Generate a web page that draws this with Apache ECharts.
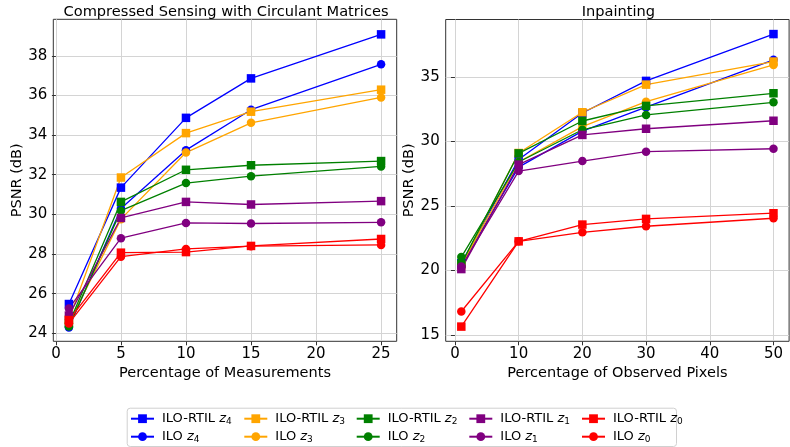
<!DOCTYPE html>
<html>
<head>
<meta charset="utf-8">
<script src="https://cdn.jsdelivr.net/npm/echarts@6/dist/echarts.min.js"></script>
<style>html,body{margin:0;padding:0;background:#fff}#c{width:790px;height:447px}</style>
</head>
<body>
<div id="c"></div>
<script>
// ---- data ----
const csX = [1, 5, 10, 15, 25];
const inX = [1, 10, 20, 30, 50];
const seriesNames = ['ILO-RTIL z4','ILO z4','ILO-RTIL z3','ILO z3','ILO-RTIL z2','ILO z2','ILO-RTIL z1','ILO z1','ILO-RTIL z0','ILO z0'];
const seriesColors = ['#0000ff','#0000ff','#ffa500','#ffa500','#008000','#008000','#800080','#800080','#ff0000','#ff0000'];
const seriesSymbols = ['rect','circle','rect','circle','rect','circle','rect','circle','rect','circle'];

const cs_rtil_z4 = [25.48, 31.35, 34.87, 36.86, 39.08];
const cs_ilo_z4  = [24.30, 30.30, 33.24, 35.28, 37.57];
const cs_rtil_z3 = [24.70, 31.86, 34.10, 35.18, 36.29];
const cs_ilo_z3  = [24.50, 29.76, 33.12, 34.62, 35.90];
const cs_rtil_z2 = [24.50, 30.63, 32.25, 32.48, 32.69];
const cs_ilo_z2  = [24.35, 30.19, 31.58, 31.93, 32.42];
const cs_rtil_z1 = [24.90, 29.82, 30.63, 30.50, 30.67];
const cs_ilo_z1  = [25.26, 28.80, 29.57, 29.54, 29.60];
const cs_rtil_z0 = [24.67, 28.07, 28.10, 28.41, 28.76];
const cs_ilo_z0  = [24.50, 27.87, 28.26, 28.40, 28.46];

const in_rtil_z4 = [20.55, 28.60, 32.20, 34.69, 38.32];
const in_ilo_z4  = [20.40, 28.00, 30.80, 32.65, 36.32];
const in_rtil_z3 = [20.40, 29.10, 32.26, 34.40, 36.19];
const in_ilo_z3  = [20.40, 28.40, 31.14, 33.08, 35.93];
const in_rtil_z2 = [20.50, 29.07, 31.58, 32.75, 33.73];
const in_ilo_z2  = [21.03, 28.40, 30.90, 32.05, 33.03];
const in_rtil_z1 = [20.10, 28.20, 30.50, 30.98, 31.60];
const in_ilo_z1  = [20.30, 27.70, 28.47, 29.20, 29.43];
const in_rtil_z0 = [15.64, 22.25, 23.55, 23.99, 24.43];
const in_ilo_z0  = [16.81, 22.25, 22.95, 23.42, 24.04];

const csValues = [cs_rtil_z4, cs_ilo_z4, cs_rtil_z3, cs_ilo_z3, cs_rtil_z2, cs_ilo_z2, cs_rtil_z1, cs_ilo_z1, cs_rtil_z0, cs_ilo_z0];
const inValues = [in_rtil_z4, in_ilo_z4, in_rtil_z3, in_ilo_z3, in_rtil_z2, in_ilo_z2, in_rtil_z1, in_ilo_z1, in_rtil_z0, in_ilo_z0];

const csXTicks = [0, 5, 10, 15, 20, 25];
const csYTicks = [24, 26, 28, 30, 32, 34, 36, 38];
const inXTicks = [0, 10, 20, 30, 40, 50];
const inYTicks = [15, 20, 25, 30, 35];

// ---- styling ----
const FONT = 'DejaVu Sans';
const gridLine = { show: true, lineStyle: { color: '#d4d4d4', width: 1 } };

function xAxis(gridIndex, min, max, ticks, name) {
  return {
    type: 'value', gridIndex, min, max, name,
    nameLocation: 'middle', nameGap: 22,
    nameTextStyle: { fontFamily: FONT, fontSize: 14.5, color: '#000' },
    axisLine: { show: false },
    axisTick: { show: true, length: 4, lineStyle: { color: '#333' }, customValues: ticks },
    axisLabel: { customValues: ticks, margin: 5, fontFamily: FONT, fontSize: 15, color: '#000' },
    splitLine: gridLine
  };
}
function yAxis(gridIndex, min, max, ticks) {
  return {
    type: 'value', gridIndex, min, max, name: 'PSNR (dB)',
    nameLocation: 'middle', nameGap: 27, nameRotate: 90,
    nameTextStyle: { fontFamily: FONT, fontSize: 14.5, color: '#000' },
    axisLine: { show: false },
    axisTick: { show: true, length: 4, lineStyle: { color: '#333' }, customValues: ticks },
    axisLabel: { customValues: ticks, margin: 6, fontFamily: FONT, fontSize: 15, color: '#000' },
    splitLine: gridLine
  };
}

const series = [];
seriesNames.forEach((nm, i) => {
  [[csX, csValues[i], 0], [inX, inValues[i], 1]].forEach(([xs, ys, g]) => {
    series.push({
      name: nm, type: 'line', xAxisIndex: g, yAxisIndex: g,
      data: xs.map((x, k) => [x, ys[k]]),
      symbol: seriesSymbols[i], symbolSize: 8.5,
      itemStyle: { color: seriesColors[i] },
      lineStyle: { color: seriesColors[i], width: 1.3 },
      emphasis: { disabled: true }, animation: false
    });
  });
});

const colX = [130, 243.3, 355.7, 468.3, 581];
const rowY = [417.7, 435.7];
const legends = seriesNames.map((nm, i) => ({
  data: [nm], left: colX[Math.floor(i / 2)], top: rowY[i % 2] - 5.5,
  padding: 0, itemWidth: 23, itemHeight: 11, selectedMode: false,
  formatter: n => {
    const parts = n.split(' z');
    return parts[0] + ' {i|z}{s|' + parts[1] + '}';
  },
  textStyle: {
    fontFamily: FONT, fontSize: 13, color: '#000', padding: [0, 0, 0, 3],
    rich: {
      i: { fontFamily: FONT, fontStyle: 'italic', fontSize: 13, color: '#000' },
      s: { fontFamily: FONT, fontSize: 9, color: '#000', verticalAlign: 'bottom', padding: [5, 0, 0, 0] }
    }
  }
}));

const chart = echarts.init(document.getElementById('c'), null, { renderer: 'canvas' });
chart.setOption({
  animation: false,
  backgroundColor: '#fff',
  title: [
    { text: 'Compressed Sensing with Circulant Matrices', left: 221, top: 0, textAlign: 'center',
      textStyle: { fontFamily: FONT, fontSize: 14.6, fontWeight: 'normal', color: '#000' } },
    { text: 'Inpainting', left: 613.4, top: 0, textAlign: 'center',
      textStyle: { fontFamily: FONT, fontSize: 14.6, fontWeight: 'normal', color: '#000' } }
  ],
  grid: [
    { left: 53.3, top: 19.3, width: 343.4, height: 322, show: true, borderColor: '#333', borderWidth: 1, backgroundColor: 'transparent' },
    { left: 445.7, top: 19.5, width: 343.4, height: 321.8, show: true, borderColor: '#333', borderWidth: 1, backgroundColor: 'transparent' }
  ],
  xAxis: [
    xAxis(0, -0.2, 26.2, csXTicks, 'Percentage of Measurements'),
    xAxis(1, -1.45, 52.45, inXTicks, 'Percentage of Observed Pixels')
  ],
  yAxis: [
    yAxis(0, 23.6, 39.84, csYTicks),
    yAxis(1, 14.5, 39.45, inYTicks)
  ],
  legend: legends,
  graphic: [{
    type: 'rect', left: 126.7, top: 407.7, z: -1,
    shape: { width: 549.3, height: 38.3, r: 3 },
    style: { fill: '#fff', stroke: '#d0d0d0', lineWidth: 1 }
  }],
  series
});
</script>
</body>
</html>
